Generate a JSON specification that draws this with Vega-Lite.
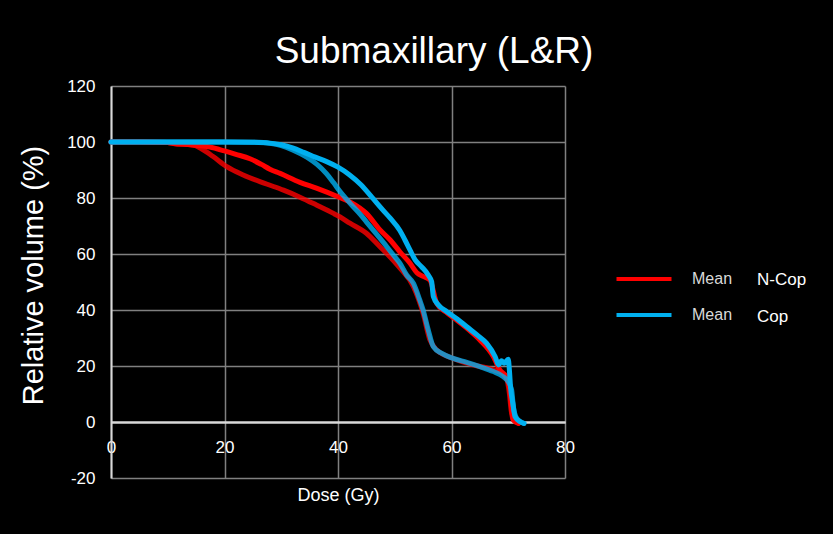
{
  "$schema": "https://vega.github.io/schema/vega-lite/v6.json",
  "width": 454,
  "height": 392,
  "autosize": {"type": "none"},
  "padding": {"left": 111, "top": 86, "right": 268, "bottom": 56},
  "background": "#000000",
  "config": {"view": {"stroke": null}, "font": "Liberation Sans"},
  "title": {
    "text": "Submaxillary (L&R)",
    "color": "#ffffff",
    "fontSize": 37,
    "fontWeight": "normal",
    "font": "Liberation Sans",
    "anchor": "middle",
    "frame": "group",
    "dx": 96,
    "baseline": "alphabetic",
    "offset": -23
  },
  "datasets": {
    "dvh": [
      {"series": "N-Cop", "curve": "lower", "dose": 0, "vol": 100},
      {"series": "N-Cop", "curve": "lower", "dose": 5, "vol": 100},
      {"series": "N-Cop", "curve": "lower", "dose": 10, "vol": 99.8},
      {"series": "N-Cop", "curve": "lower", "dose": 11, "vol": 99.5},
      {"series": "N-Cop", "curve": "lower", "dose": 14.5, "vol": 98.9},
      {"series": "N-Cop", "curve": "lower", "dose": 16, "vol": 97.5},
      {"series": "N-Cop", "curve": "lower", "dose": 18, "vol": 94.8},
      {"series": "N-Cop", "curve": "lower", "dose": 20.4, "vol": 91.2},
      {"series": "N-Cop", "curve": "lower", "dose": 23.3, "vol": 88.2},
      {"series": "N-Cop", "curve": "lower", "dose": 27.4, "vol": 85},
      {"series": "N-Cop", "curve": "lower", "dose": 30.4, "vol": 82.8},
      {"series": "N-Cop", "curve": "lower", "dose": 33.3, "vol": 80.3},
      {"series": "N-Cop", "curve": "lower", "dose": 36.2, "vol": 77.5},
      {"series": "N-Cop", "curve": "lower", "dose": 39.2, "vol": 74.5},
      {"series": "N-Cop", "curve": "lower", "dose": 40.3, "vol": 73.3},
      {"series": "N-Cop", "curve": "lower", "dose": 42.1, "vol": 71},
      {"series": "N-Cop", "curve": "lower", "dose": 45, "vol": 67.4},
      {"series": "N-Cop", "curve": "lower", "dose": 47.4, "vol": 62.6},
      {"series": "N-Cop", "curve": "lower", "dose": 48.6, "vol": 60.2},
      {"series": "N-Cop", "curve": "lower", "dose": 50.9, "vol": 55},
      {"series": "N-Cop", "curve": "lower", "dose": 53.3, "vol": 48.3},
      {"series": "N-Cop", "curve": "lower", "dose": 55, "vol": 38.8},
      {"series": "N-Cop", "curve": "lower", "dose": 56.2, "vol": 29.3},
      {"series": "N-Cop", "curve": "lower", "dose": 57.4, "vol": 25.7},
      {"series": "N-Cop", "curve": "lower", "dose": 60.3, "vol": 22.7},
      {"series": "N-Cop", "curve": "lower", "dose": 63.8, "vol": 20.4},
      {"series": "N-Cop", "curve": "lower", "dose": 67.4, "vol": 18.6},
      {"series": "N-Cop", "curve": "lower", "dose": 69.1, "vol": 17.1},
      {"series": "N-Cop", "curve": "lower", "dose": 69.7, "vol": 15.6},
      {"series": "N-Cop", "curve": "lower", "dose": 70.2, "vol": 10.2},
      {"series": "N-Cop", "curve": "lower", "dose": 70.5, "vol": 4.3},
      {"series": "N-Cop", "curve": "lower", "dose": 70.9, "vol": 0.7},
      {"series": "N-Cop", "curve": "lower", "dose": 71.8, "vol": -0.5},

      {"series": "N-Cop", "curve": "upper", "dose": 0, "vol": 100},
      {"series": "N-Cop", "curve": "upper", "dose": 5, "vol": 100},
      {"series": "N-Cop", "curve": "upper", "dose": 10, "vol": 99.8},
      {"series": "N-Cop", "curve": "upper", "dose": 11, "vol": 99.5},
      {"series": "N-Cop", "curve": "upper", "dose": 14, "vol": 99},
      {"series": "N-Cop", "curve": "upper", "dose": 17.4, "vol": 98.2},
      {"series": "N-Cop", "curve": "upper", "dose": 20, "vol": 96.8},
      {"series": "N-Cop", "curve": "upper", "dose": 22, "vol": 95.6},
      {"series": "N-Cop", "curve": "upper", "dose": 24.5, "vol": 94},
      {"series": "N-Cop", "curve": "upper", "dose": 26.5, "vol": 92},
      {"series": "N-Cop", "curve": "upper", "dose": 28, "vol": 90.3},
      {"series": "N-Cop", "curve": "upper", "dose": 29.8, "vol": 88.8},
      {"series": "N-Cop", "curve": "upper", "dose": 33.3, "vol": 85.6},
      {"series": "N-Cop", "curve": "upper", "dose": 36.2, "vol": 83.5},
      {"series": "N-Cop", "curve": "upper", "dose": 40.3, "vol": 80.2},
      {"series": "N-Cop", "curve": "upper", "dose": 42.1, "vol": 78.6},
      {"series": "N-Cop", "curve": "upper", "dose": 45, "vol": 74.5},
      {"series": "N-Cop", "curve": "upper", "dose": 47.4, "vol": 68.6},
      {"series": "N-Cop", "curve": "upper", "dose": 49.2, "vol": 65},
      {"series": "N-Cop", "curve": "upper", "dose": 50.9, "vol": 60.8},
      {"series": "N-Cop", "curve": "upper", "dose": 52.7, "vol": 56.7},
      {"series": "N-Cop", "curve": "upper", "dose": 53.9, "vol": 53.3},
      {"series": "N-Cop", "curve": "upper", "dose": 55, "vol": 52},
      {"series": "N-Cop", "curve": "upper", "dose": 56.2, "vol": 50.7},
      {"series": "N-Cop", "curve": "upper", "dose": 57.4, "vol": 42.4},
      {"series": "N-Cop", "curve": "upper", "dose": 59, "vol": 39.3},
      {"series": "N-Cop", "curve": "upper", "dose": 60.9, "vol": 36.4},
      {"series": "N-Cop", "curve": "upper", "dose": 63, "vol": 33},
      {"series": "N-Cop", "curve": "upper", "dose": 65, "vol": 29.3},
      {"series": "N-Cop", "curve": "upper", "dose": 67.4, "vol": 23.3},
      {"series": "N-Cop", "curve": "upper", "dose": 68.5, "vol": 18.6},
      {"series": "N-Cop", "curve": "upper", "dose": 69.6, "vol": 16.2},
      {"series": "N-Cop", "curve": "upper", "dose": 70.2, "vol": 12.6},
      {"series": "N-Cop", "curve": "upper", "dose": 70.5, "vol": 6.8},
      {"series": "N-Cop", "curve": "upper", "dose": 70.9, "vol": 0.7},
      {"series": "N-Cop", "curve": "upper", "dose": 71.8, "vol": -0.5},

      {"series": "Cop", "curve": "lower", "dose": 0, "vol": 100},
      {"series": "Cop", "curve": "lower", "dose": 10, "vol": 100},
      {"series": "Cop", "curve": "lower", "dose": 20, "vol": 100},
      {"series": "Cop", "curve": "lower", "dose": 26, "vol": 99.9},
      {"series": "Cop", "curve": "lower", "dose": 28, "vol": 99.5},
      {"series": "Cop", "curve": "lower", "dose": 30, "vol": 98.7},
      {"series": "Cop", "curve": "lower", "dose": 32, "vol": 97.2},
      {"series": "Cop", "curve": "lower", "dose": 34.5, "vol": 94.6},
      {"series": "Cop", "curve": "lower", "dose": 36.3, "vol": 92},
      {"series": "Cop", "curve": "lower", "dose": 38, "vol": 88.6},
      {"series": "Cop", "curve": "lower", "dose": 39.2, "vol": 85.5},
      {"series": "Cop", "curve": "lower", "dose": 40.3, "vol": 82.5},
      {"series": "Cop", "curve": "lower", "dose": 42.1, "vol": 78.2},
      {"series": "Cop", "curve": "lower", "dose": 44, "vol": 74},
      {"series": "Cop", "curve": "lower", "dose": 45, "vol": 71.5},
      {"series": "Cop", "curve": "lower", "dose": 46.5, "vol": 67.8},
      {"series": "Cop", "curve": "lower", "dose": 48.6, "vol": 62.6},
      {"series": "Cop", "curve": "lower", "dose": 50, "vol": 59},
      {"series": "Cop", "curve": "lower", "dose": 50.9, "vol": 56.7},
      {"series": "Cop", "curve": "lower", "dose": 52.1, "vol": 52.5},
      {"series": "Cop", "curve": "lower", "dose": 53.3, "vol": 49.5},
      {"series": "Cop", "curve": "lower", "dose": 54.4, "vol": 43.6},
      {"series": "Cop", "curve": "lower", "dose": 55, "vol": 40},
      {"series": "Cop", "curve": "lower", "dose": 55.9, "vol": 32.9},
      {"series": "Cop", "curve": "lower", "dose": 56.8, "vol": 26.9},
      {"series": "Cop", "curve": "lower", "dose": 58.3, "vol": 24.5},
      {"series": "Cop", "curve": "lower", "dose": 60.3, "vol": 22.7},
      {"series": "Cop", "curve": "lower", "dose": 62.7, "vol": 21.3},
      {"series": "Cop", "curve": "lower", "dose": 65, "vol": 19.8},
      {"series": "Cop", "curve": "lower", "dose": 67.4, "vol": 18},
      {"series": "Cop", "curve": "lower", "dose": 69.1, "vol": 16.2},
      {"series": "Cop", "curve": "lower", "dose": 70, "vol": 14.4},
      {"series": "Cop", "curve": "lower", "dose": 70.6, "vol": 11.4},
      {"series": "Cop", "curve": "lower", "dose": 70.9, "vol": 5.5},
      {"series": "Cop", "curve": "lower", "dose": 71.5, "vol": 1.3},
      {"series": "Cop", "curve": "lower", "dose": 72.7, "vol": -0.5},

      {"series": "Cop", "curve": "upper", "dose": 0, "vol": 100},
      {"series": "Cop", "curve": "upper", "dose": 5, "vol": 100},
      {"series": "Cop", "curve": "upper", "dose": 10, "vol": 100},
      {"series": "Cop", "curve": "upper", "dose": 15, "vol": 100},
      {"series": "Cop", "curve": "upper", "dose": 20, "vol": 100},
      {"series": "Cop", "curve": "upper", "dose": 25, "vol": 99.9},
      {"series": "Cop", "curve": "upper", "dose": 28, "vol": 99.6},
      {"series": "Cop", "curve": "upper", "dose": 30, "vol": 99},
      {"series": "Cop", "curve": "upper", "dose": 32, "vol": 97.9},
      {"series": "Cop", "curve": "upper", "dose": 34, "vol": 96.3},
      {"series": "Cop", "curve": "upper", "dose": 36, "vol": 94.6},
      {"series": "Cop", "curve": "upper", "dose": 38, "vol": 93},
      {"series": "Cop", "curve": "upper", "dose": 40, "vol": 91},
      {"series": "Cop", "curve": "upper", "dose": 42, "vol": 88.3},
      {"series": "Cop", "curve": "upper", "dose": 44, "vol": 84.8},
      {"series": "Cop", "curve": "upper", "dose": 46, "vol": 80.2},
      {"series": "Cop", "curve": "upper", "dose": 48, "vol": 75.5},
      {"series": "Cop", "curve": "upper", "dose": 49.2, "vol": 72.8},
      {"series": "Cop", "curve": "upper", "dose": 50.9, "vol": 68.4},
      {"series": "Cop", "curve": "upper", "dose": 51.8, "vol": 65},
      {"series": "Cop", "curve": "upper", "dose": 52.7, "vol": 61.4},
      {"series": "Cop", "curve": "upper", "dose": 53.6, "vol": 57.9},
      {"series": "Cop", "curve": "upper", "dose": 54.7, "vol": 55.5},
      {"series": "Cop", "curve": "upper", "dose": 55.9, "vol": 52.5},
      {"series": "Cop", "curve": "upper", "dose": 56.5, "vol": 50.1},
      {"series": "Cop", "curve": "upper", "dose": 56.8, "vol": 44.8},
      {"series": "Cop", "curve": "upper", "dose": 57.7, "vol": 41.8},
      {"series": "Cop", "curve": "upper", "dose": 59.2, "vol": 39.4},
      {"series": "Cop", "curve": "upper", "dose": 61, "vol": 36.8},
      {"series": "Cop", "curve": "upper", "dose": 62.7, "vol": 34},
      {"series": "Cop", "curve": "upper", "dose": 64.5, "vol": 31.1},
      {"series": "Cop", "curve": "upper", "dose": 66.2, "vol": 28.1},
      {"series": "Cop", "curve": "upper", "dose": 67.7, "vol": 23.3},
      {"series": "Cop", "curve": "upper", "dose": 68.3, "vol": 20.4},
      {"series": "Cop", "curve": "upper", "dose": 68.8, "vol": 21.9},
      {"series": "Cop", "curve": "upper", "dose": 69.3, "vol": 21},
      {"series": "Cop", "curve": "upper", "dose": 70, "vol": 22.4},
      {"series": "Cop", "curve": "upper", "dose": 70.2, "vol": 18.6},
      {"series": "Cop", "curve": "upper", "dose": 70.4, "vol": 12.6},
      {"series": "Cop", "curve": "upper", "dose": 70.8, "vol": 6.8},
      {"series": "Cop", "curve": "upper", "dose": 71.2, "vol": 1.9},
      {"series": "Cop", "curve": "upper", "dose": 72.1, "vol": 0.1},
      {"series": "Cop", "curve": "upper", "dose": 72.8, "vol": -0.5}
    ]
  },
  "data": {"name": "dvh"},
  "encoding": {
    "x": {
      "field": "dose",
      "type": "quantitative",
      "scale": {"domain": [0, 80], "nice": false, "zero": false},
      "axis": {
        "values": [0, 20, 40, 60, 80],
        "title": "Dose (Gy)",
        "offset": -56,
        "grid": true,
        "gridColor": "#808080",
        "gridWidth": 1.5,
        "domainColor": "#d9d9d9",
        "domainWidth": 2,
        "ticks": false,
        "labelFlush": false,
        "labelColor": "#ffffff",
        "labelFontSize": 17,
        "labelFont": "Liberation Sans",
        "labelPadding": 17,
        "titleColor": "#ffffff",
        "titleFont": "Liberation Sans",
        "titleFontSize": 18,
        "titleFontWeight": "normal",
        "titleY": 78,
        "titleBaseline": "alphabetic",
        "zindex": 0
      }
    },
    "y": {
      "field": "vol",
      "type": "quantitative",
      "scale": {"domain": [-20, 120], "nice": false, "zero": false},
      "axis": {
        "values": [-20, 0, 20, 40, 60, 80, 100, 120],
        "labelExpr": "'' + datum.value",
        "title": "Relative volume (%)",
        "grid": true,
        "gridColor": {"condition": {"test": "datum.value === 0", "value": "#d9d9d9"}, "value": "#808080"},
        "gridWidth": {"condition": {"test": "datum.value === 0", "value": 2}, "value": 1.5},
        "domainColor": "#d9d9d9",
        "domainWidth": 2,
        "ticks": false,
        "labelColor": "#ffffff",
        "labelFontSize": 17,
        "labelFont": "Liberation Sans",
        "labelPadding": 16,
        "titleColor": "#ffffff",
        "titleFont": "Liberation Sans",
        "titleFontSize": 29,
        "titleFontWeight": "normal",
        "titleX": -78,
        "titleY": 189,
        "titleAngle": -90,
        "titleAlign": "center",
        "titleBaseline": "middle",
        "zindex": 0
      }
    }
  },
  "layer": [
    {
      "transform": [{"filter": "datum.series === 'N-Cop'"}],
      "mark": {"type": "line", "strokeWidth": 5, "strokeCap": "round", "strokeJoin": "round", "interpolate": "monotone"},
      "encoding": {
        "color": {
          "field": "series",
          "type": "nominal",
          "scale": {"domain": ["N-Cop", "Cop"], "range": ["#ff0000", "#00b0f0"]},
          "legend": {
            "orient": "none",
            "legendX": 520,
            "legendY": 180,
            "title": null,
            "padding": 0,
            "labelExpr": "'Mean'",
            "labelColor": "#d9d9d9",
            "labelFont": "Liberation Sans",
            "labelFontSize": 16,
            "labelOffset": 35,
            "symbolType": "M-2.5,0H2.5",
            "symbolSize": 484,
            "symbolStrokeWidth": 4,
            "rowPadding": 15
          }
        },
        "opacity": {
          "field": "curve",
          "type": "nominal",
          "scale": {"domain": ["upper", "lower"], "range": [1, 0.8]},
          "legend": null
        }
      }
    },
    {
      "transform": [{"filter": "datum.series === 'Cop'"}],
      "mark": {"type": "line", "strokeWidth": 5, "strokeCap": "round", "strokeJoin": "round", "interpolate": "monotone"},
      "encoding": {
        "color": {"field": "series", "type": "nominal"},
        "opacity": {"field": "curve", "type": "nominal", "legend": null}
      }
    },
    {
      "mark": {"type": "point", "opacity": 0},
      "encoding": {
        "shape": {
          "field": "series",
          "type": "nominal",
          "sort": "descending",
          "legend": {
            "orient": "none",
            "legendX": 629,
            "legendY": 185,
            "title": null,
            "padding": 0,
            "labelColor": "#ffffff",
            "labelFont": "Liberation Sans",
            "labelFontSize": 17,
            "labelOffset": 0,
            "symbolSize": 1,
            "symbolOpacity": 0,
            "symbolStrokeWidth": 0,
            "rowPadding": 19
          }
        }
      }
    }
  ]
}
